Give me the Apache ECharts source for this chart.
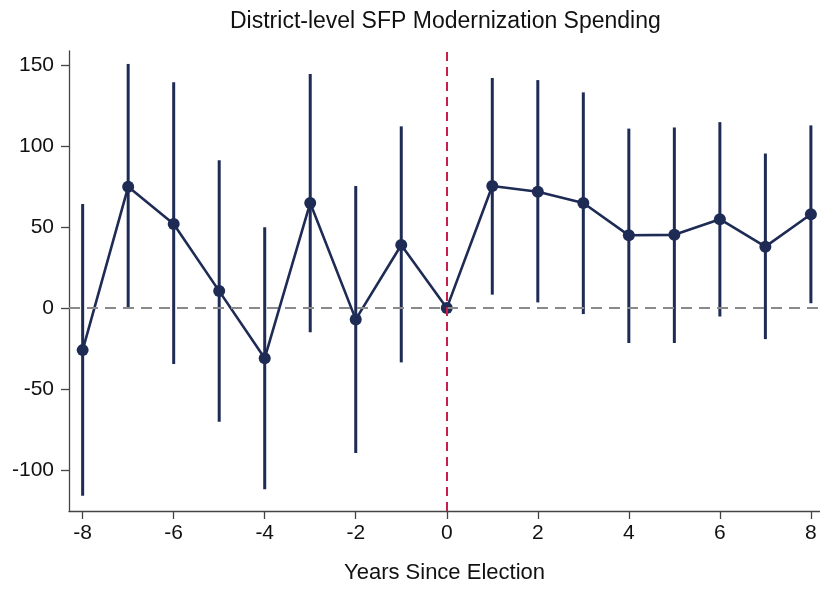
<!DOCTYPE html>
<html>
<head>
<meta charset="utf-8">
<script src="https://cdn.jsdelivr.net/npm/echarts@6/dist/echarts.min.js"></script>
<style>
  html, body { margin: 0; padding: 0; background: #fff; }
  #chart { width: 820px; height: 589px; }
</style>
</head>
<body>
<div id="chart"></div>
<script>
// Event-study estimates: years relative to election, point estimate and 95% CI
const years    = [-8, -7, -6, -5, -4, -3, -2, -1, 0, 1, 2, 3, 4, 5, 6, 7, 8];
const estimate = [-26, 75, 52, 10.5, -31, 65, -7, 39, 0, 75.5, 72, 65, 45, 45.3, 55, 38, 58];
const ciLower  = [-116, 0, -34.6, -70.3, -112, -15, -89.7, -33.6, null, 8.3, 3.5, -3.7, -21.6, -21.6, -5.2, -19.2, 3];
const ciUpper  = [64.3, 151, 139.6, 91.5, 50, 144.7, 75.5, 112.4, null, 142.3, 141, 133.4, 111, 111.7, 115, 95.6, 113];
const yTicks   = [-100, -50, 0, 50, 100, 150];
const xTicks   = [-8, -6, -4, -2, 0, 2, 4, 6, 8];

const NAVY = '#1e2b55';
const FONT = 'Liberation Sans, Arial, sans-serif';

const pointData = years.map((x, i) => [x, estimate[i]]);
const ciData = years
  .map((x, i) => [x, ciLower[i], ciUpper[i]])
  .filter(d => d[1] !== null);

const chart = echarts.init(document.getElementById('chart'), null, { renderer: 'canvas' });

chart.setOption({
  animation: false,
  backgroundColor: '#ffffff',
  title: {
    text: 'District-level SFP Modernization Spending',
    left: 225,
    top: 5,
    textStyle: { fontFamily: FONT, fontSize: 23, fontWeight: 'normal', color: '#111' }
  },
  grid: { left: 69, right: 0, top: 51, bottom: 77 },
  xAxis: {
    type: 'value',
    min: -8.3,
    max: 8.2,
    name: 'Years Since Election',
    nameLocation: 'middle',
    nameGap: 51,
    nameTextStyle: { fontFamily: FONT, fontSize: 22, color: '#111' },
    splitLine: { show: false },
    axisLine: { show: true, onZero: false, lineStyle: { color: '#444', width: 1.3 } },
    axisTick: { show: true, length: 8, customValues: xTicks, lineStyle: { color: '#444', width: 1.3 } },
    axisLabel: { customValues: xTicks, margin: 12, fontFamily: FONT, fontSize: 21, color: '#111' }
  },
  yAxis: {
    type: 'value',
    min: -125.5,
    max: 159,
    splitLine: { show: false },
    axisLine: { show: true, onZero: false, lineStyle: { color: '#444', width: 1.3 } },
    axisTick: { show: true, length: 8, customValues: yTicks, lineStyle: { color: '#444', width: 1.3 } },
    axisLabel: { customValues: yTicks, margin: 15, fontFamily: FONT, fontSize: 21, color: '#111' }
  },
  series: [
    {
      // confidence interval whiskers
      type: 'custom',
      z: 3,
      data: ciData,
      renderItem: function (params, api) {
        const top = api.coord([api.value(0), api.value(2)]);
        const bot = api.coord([api.value(0), api.value(1)]);
        return {
          type: 'line',
          shape: { x1: top[0], y1: top[1], x2: bot[0], y2: bot[1] },
          style: { stroke: NAVY, lineWidth: 3 }
        };
      },
      encode: { x: 0, y: [1, 2] }
    },
    {
      type: 'line',
      z: 4,
      data: pointData,
      symbol: 'circle',
      symbolSize: 12,
      lineStyle: { color: NAVY, width: 2.6 },
      itemStyle: { color: NAVY },
      markLine: {
        silent: true,
        symbol: 'none',
        label: { show: false },
        data: [
          { yAxis: 0, lineStyle: { color: '#8a8a8a', type: [11, 7], width: 2 } },
          { xAxis: 0, lineStyle: { color: '#c81e4a', type: [9, 6], width: 2 } }
        ]
      }
    }
  ]
});
</script>
</body>
</html>
